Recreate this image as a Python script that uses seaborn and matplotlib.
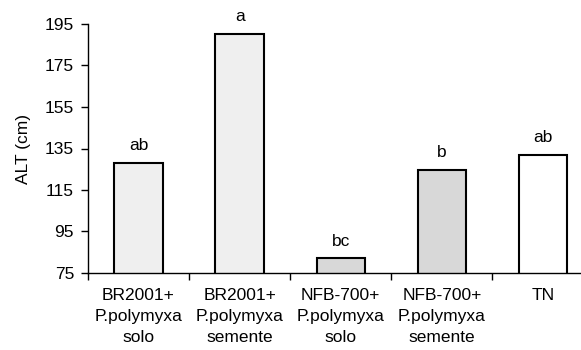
import matplotlib
matplotlib.use("Agg")
import matplotlib.pyplot as plt
import seaborn as sns
import pandas as pd

categories = ["BR2001+\nP.polymyxa\nsolo", "BR2001+\nP.polymyxa\nsemente",
              "NFB-700+\nP.polymyxa\nsolo", "NFB-700+\nP.polymyxa\nsemente", "TN"]
values = [128.0, 190.3, 82.0, 124.6, 132.0]
letters = ["ab", "a", "bc", "b", "ab"]
colors = ["#efefef", "#efefef", "#d8d8d8", "#d8d8d8", "#ffffff"]
yticks = [75, 95, 115, 135, 155, 175, 195]

sns.set_theme(style="ticks")
plt.rcParams["font.family"] = ["Liberation Sans", "DejaVu Sans"]
plt.rcParams["text.color"] = "black"
plt.rcParams["axes.labelcolor"] = "black"
plt.rcParams["xtick.color"] = "black"
plt.rcParams["ytick.color"] = "black"

df = pd.DataFrame({"cat": categories, "val": values})

fig = plt.figure(figsize=(5.81, 3.5), dpi=100)
ax = fig.add_axes([88 / 581, 77 / 350, 1 - 88 / 581, (273 - 24) / 350])

sns.barplot(data=df, x="cat", y="val", hue="cat", palette=colors, legend=False,
            width=0.48, edgecolor="black", linewidth=1.5, ax=ax)

fs = 12.5
ax.set_ylim(75, 195)
ax.set_xlim(-0.5, 4.376)
ax.set_yticks(yticks)
ax.set_yticklabels([str(t) for t in yticks], fontsize=fs)

ax.set_xticks([-0.5, 0.5, 1.5, 2.5, 3.5], minor=False)
ax.set_xticklabels([])
ax.set_xticks(range(len(categories)), minor=True)
ax.set_xticklabels(categories, minor=True, fontsize=fs, linespacing=1.5)
ax.tick_params(axis="x", which="minor", length=0, pad=11)
ax.tick_params(axis="x", which="major", length=5, width=1, color="black", direction="out")
ax.tick_params(axis="y", length=5, width=1, color="black", direction="out", pad=5)

ax.set_xlabel("")
ax.set_ylabel("ALT (cm)", fontsize=fs, labelpad=10)

for s in ["top", "right"]:
    ax.spines[s].set_visible(False)
for s in ["left", "bottom"]:
    ax.spines[s].set_color("black")
    ax.spines[s].set_linewidth(1.0)

for i, (v, l) in enumerate(zip(values, letters)):
    ax.annotate(l, (i, v), xytext=(0, 7), textcoords="offset points",
                ha="center", va="bottom", fontsize=fs, annotation_clip=False)

fig.savefig("out.png", dpi=100)
